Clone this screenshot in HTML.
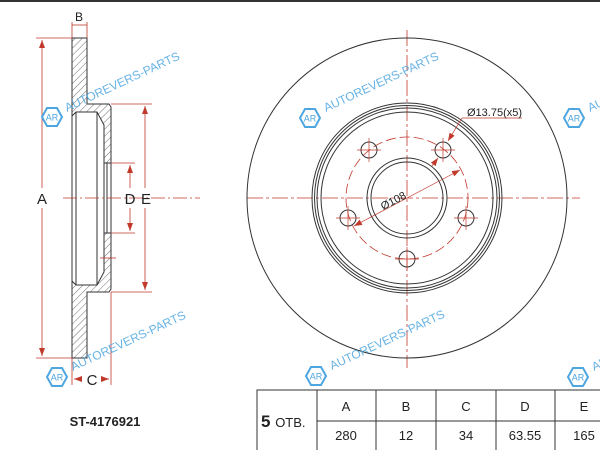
<!DOCTYPE html>
<html><head><meta charset="utf-8"><style>
html,body{margin:0;padding:0;background:#fff;width:600px;height:450px;overflow:hidden}
svg{display:block}
.wm{font-family:"Liberation Sans",sans-serif;font-size:12px;fill:#4ea6e0;opacity:.85}
</style></head><body>
<svg width="600" height="450" viewBox="0 0 600 450" xmlns="http://www.w3.org/2000/svg">
<defs>
<pattern id="h" patternUnits="userSpaceOnUse" width="5" height="5" patternTransform="rotate(45)">
<line x1="0" y1="0" x2="0" y2="5" stroke="#333" stroke-width="0.7"/>
</pattern>
<marker id="ar" markerWidth="8" markerHeight="6" refX="8" refY="3" orient="auto-start-reverse" markerUnits="userSpaceOnUse">
<path d="M0,0 L8,3 L0,6 z" fill="#c0392b"/>
</marker>
<g id="logo">
<polygon points="-10,0 -5,-9 5,-9 10,0 5,9 -5,9" fill="none" stroke="#4ea6e0" stroke-width="2"/>
<text x="0" y="3.5" text-anchor="middle" font-family="Liberation Sans,sans-serif" font-size="9" fill="#4ea6e0">AR</text>
</g>
</defs>
<rect x="0" y="0" width="600" height="2" fill="#333"/>

<!-- left profile -->
<g stroke="#333" stroke-width="1">
<polygon fill="url(#h)" points="72,38 87,38 87,104 109,104 111,107 111,163 104,163 104,125 97,112 76,112 72,116"/>
<polygon fill="url(#h)" points="72,358 87,358 87,292 109,292 111,289 111,233 104,233 104,272 97,285 76,285 72,281"/>
<line x1="72" y1="116" x2="72" y2="281"/>
<line x1="76" y1="112" x2="76" y2="285"/>
<line x1="97" y1="112" x2="97" y2="285"/>
<line x1="104" y1="163" x2="104" y2="233"/>
<line x1="107" y1="163" x2="107" y2="233"/>
<line x1="111" y1="163" x2="111" y2="233"/>
</g>
<g stroke="#c0392b" stroke-width="0.8" fill="none">
<line x1="63" y1="198" x2="200" y2="198" stroke-dasharray="14,3,2,3"/>
<line x1="36" y1="38" x2="72" y2="38"/><line x1="36" y1="358" x2="72" y2="358"/>
<line x1="42" y1="40" x2="42" y2="188" marker-start="url(#ar)"/>
<line x1="42" y1="208" x2="42" y2="356" marker-end="url(#ar)"/>
<line x1="111" y1="104" x2="152" y2="104"/><line x1="111" y1="292" x2="152" y2="292"/>
<line x1="145" y1="106" x2="145" y2="188" marker-start="url(#ar)"/>
<line x1="145" y1="208" x2="145" y2="290" marker-end="url(#ar)"/>
<line x1="111" y1="163" x2="135" y2="163"/><line x1="111" y1="233" x2="135" y2="233"/>
<line x1="130" y1="165" x2="130" y2="188" marker-start="url(#ar)"/>
<line x1="130" y1="208" x2="130" y2="231" marker-end="url(#ar)"/>
<line x1="72" y1="22" x2="72" y2="38"/><line x1="87" y1="22" x2="87" y2="38"/>
<line x1="72" y1="25" x2="87" y2="25"/>
<line x1="72" y1="358" x2="72" y2="385"/><line x1="111" y1="292" x2="111" y2="385"/>
<line x1="74" y1="379" x2="82" y2="379" marker-start="url(#ar)"/>
<line x1="101" y1="379" x2="109" y2="379" marker-end="url(#ar)"/>
<line x1="100" y1="258" x2="116" y2="258"/>
</g>
<g font-family="Liberation Sans,sans-serif" font-size="15" fill="#222">
<text x="79" y="21" text-anchor="middle" font-size="12">B</text>
<text x="42" y="204" text-anchor="middle">A</text>
<text x="130" y="204" text-anchor="middle">D</text>
<text x="146" y="204" text-anchor="middle">E</text>
<text x="92" y="385" text-anchor="middle">C</text>
<text x="105" y="426" text-anchor="middle" font-weight="bold" font-size="13">ST-4176921</text>
</g>

<!-- disc -->
<g stroke="#c0392b" stroke-width="0.8" fill="none">
<line x1="247" y1="198" x2="580" y2="198" stroke-dasharray="16,3,3,3"/>
<line x1="407" y1="30" x2="407" y2="368" stroke-dasharray="16,3,3,3"/>
<circle cx="407" cy="198" r="61" stroke-dasharray="10,4"/>
</g>
<g stroke="#333" stroke-width="1" fill="none">
<circle cx="407" cy="198" r="160"/>
<circle cx="407" cy="198" r="95"/>
<circle cx="407" cy="198" r="92.5"/>
<circle cx="407" cy="198" r="90"/>
<circle cx="407" cy="198" r="86"/>
<circle cx="407" cy="198" r="40"/>
<circle cx="407" cy="198" r="36"/>
<circle cx="369" cy="150" r="8"/>
<circle cx="443" cy="150" r="8"/>
<circle cx="348" cy="218" r="8"/>
<circle cx="466" cy="218" r="8"/>
<circle cx="407" cy="259" r="8"/>
</g>
<g stroke="#c0392b" stroke-width="0.7">
<line x1="357" y1="150" x2="381" y2="150"/><line x1="369" y1="138" x2="369" y2="162"/>
<line x1="431" y1="150" x2="455" y2="150"/><line x1="443" y1="138" x2="443" y2="162"/>
<line x1="336" y1="218" x2="360" y2="218"/><line x1="348" y1="206" x2="348" y2="230"/>
<line x1="454" y1="218" x2="478" y2="218"/><line x1="466" y1="206" x2="466" y2="230"/>
<line x1="395" y1="259" x2="419" y2="259"/><line x1="407" y1="247" x2="407" y2="271"/>
<line x1="354" y1="226" x2="460" y2="170" marker-start="url(#ar)" marker-end="url(#ar)"/>
<line x1="462" y1="118" x2="448" y2="141" marker-end="url(#ar)"/>
<line x1="432" y1="166" x2="438" y2="158" marker-end="url(#ar)"/>
<line x1="462" y1="118" x2="522" y2="118"/>
</g>
<g font-family="Liberation Sans,sans-serif" fill="#222">
<text x="467" y="116" font-size="11">Ø13.75(x5)</text>
<text x="0" y="0" font-size="11" transform="translate(395,204) rotate(-27)" text-anchor="middle">Ø108</text>
</g>

<!-- table -->
<g stroke="#333" stroke-width="1" fill="none">
<rect x="257" y="390" width="350" height="70"/>
<line x1="317" y1="421" x2="600" y2="421"/>
<line x1="317" y1="390" x2="317" y2="450"/>
<line x1="376" y1="390" x2="376" y2="450"/>
<line x1="436" y1="390" x2="436" y2="450"/>
<line x1="496" y1="390" x2="496" y2="450"/>
<line x1="555" y1="390" x2="555" y2="450"/>
</g>
<g font-family="Liberation Sans,sans-serif" font-size="13" fill="#222" text-anchor="middle">
<text x="346" y="411">A</text><text x="406" y="411">B</text><text x="466" y="411">C</text><text x="525" y="411">D</text><text x="584" y="411">E</text>
<text x="346" y="440">280</text><text x="406" y="440">12</text><text x="466" y="440">34</text><text x="525" y="440">63.55</text><text x="584" y="440">165</text>
<text x="261" y="427" text-anchor="start" font-size="17" font-weight="bold">5 <tspan font-size="13" font-weight="normal">ОТВ.</tspan></text>
</g>

<!-- watermarks -->
<g>
<use href="#logo" x="52" y="117"/><text class="wm" transform="translate(67,112) rotate(-25)">AUTOREVERS-PARTS</text>
<use href="#logo" x="310" y="118"/><text class="wm" transform="translate(326,112) rotate(-25)">AUTOREVERS-PARTS</text>
<use href="#logo" x="574" y="118"/><text class="wm" transform="translate(590,112) rotate(-25)">AUTOREVERS-PARTS</text>
<use href="#logo" x="57" y="377"/><text class="wm" transform="translate(73,371) rotate(-25)">AUTOREVERS-PARTS</text>
<use href="#logo" x="316" y="376"/><text class="wm" transform="translate(332,370) rotate(-25)">AUTOREVERS-PARTS</text>
<use href="#logo" x="578" y="377"/><text class="wm" transform="translate(594,371) rotate(-25)">AUTOREVERS-PARTS</text>
</g>
</svg>
</body></html>
